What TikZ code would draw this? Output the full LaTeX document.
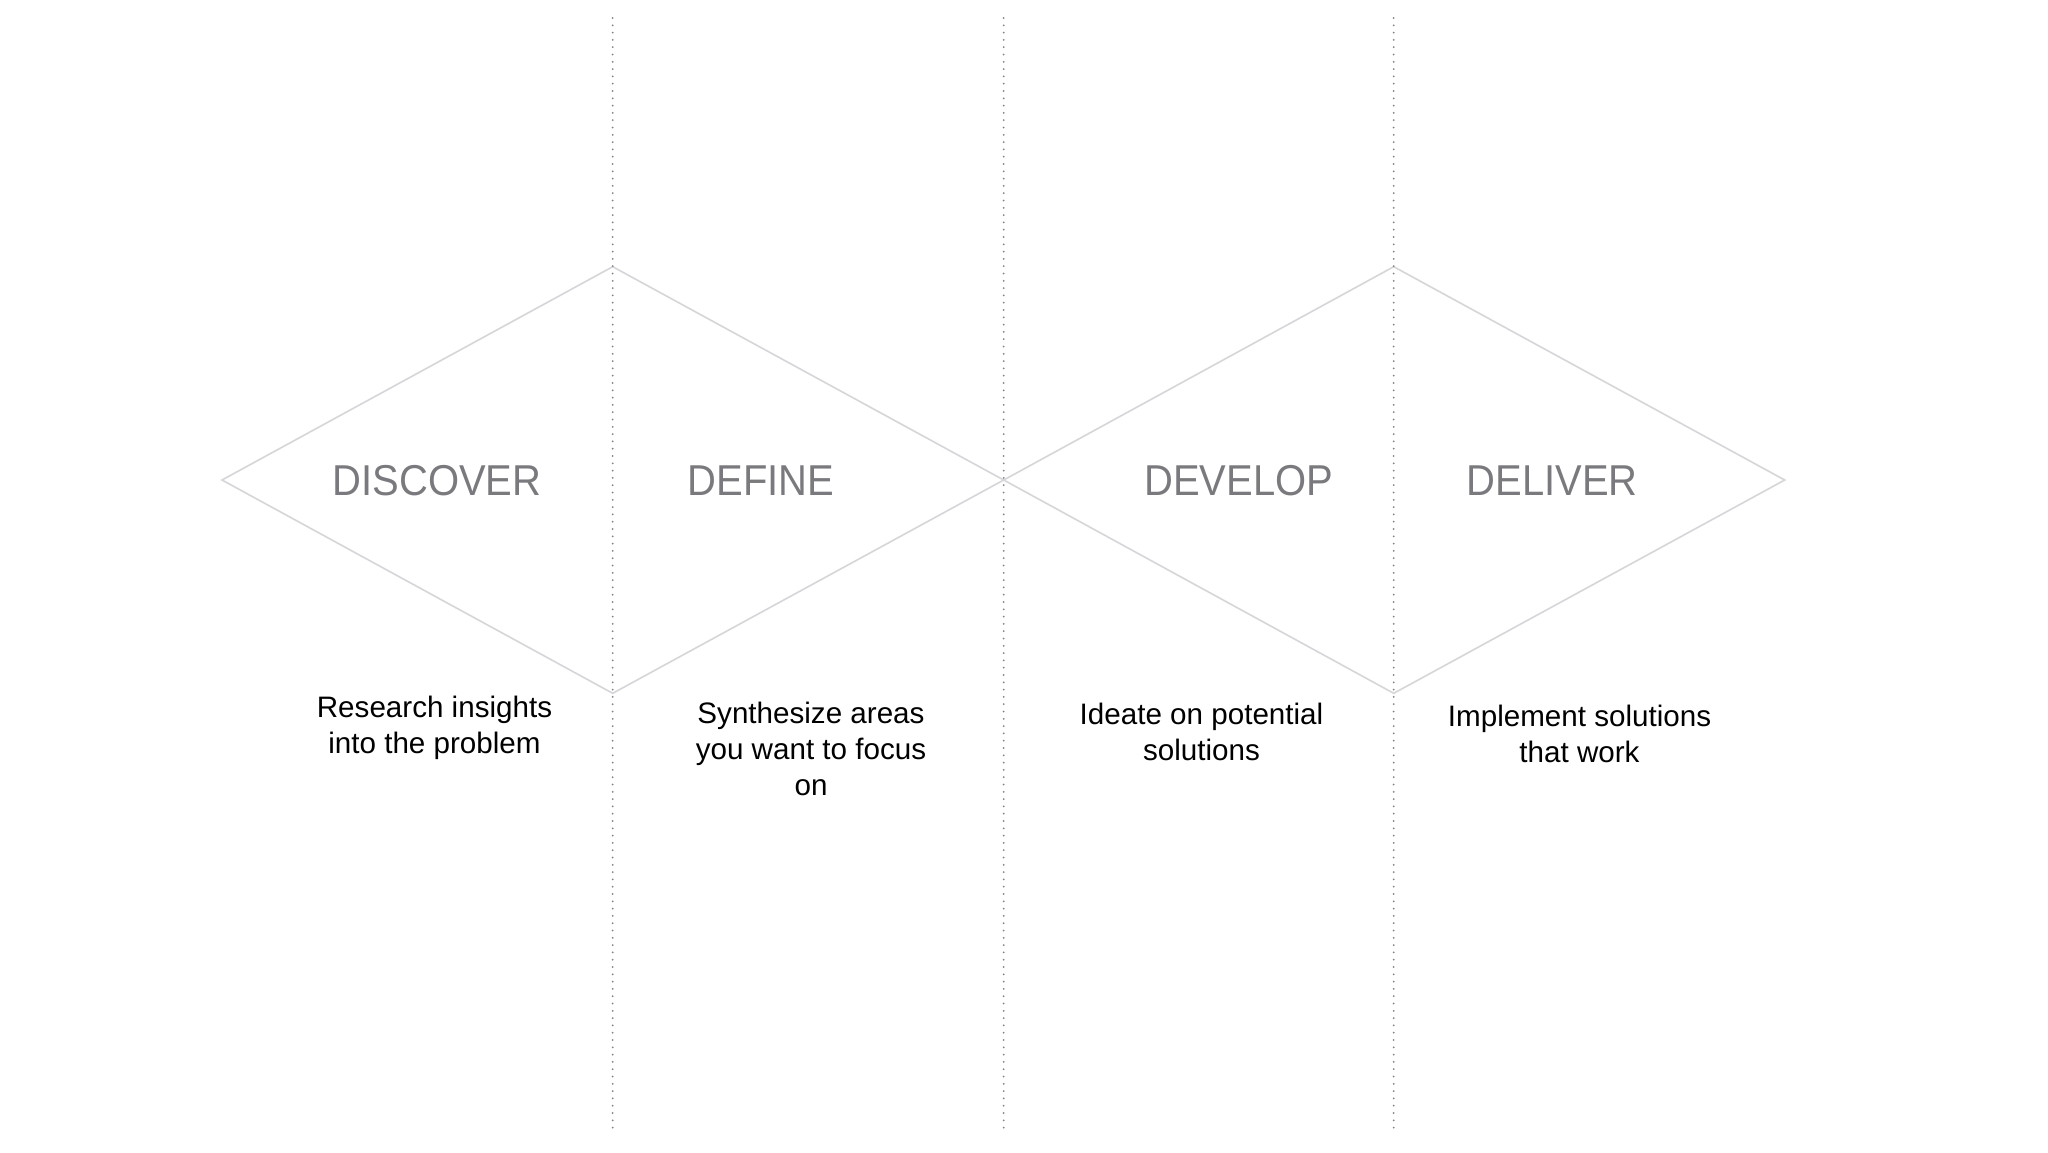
\documentclass[tikz,border=0pt]{standalone}
\usepackage{fontspec}
\setmainfont{Liberation Sans}
\newfontfamily\titlefont[FakeStretch=0.925]{Liberation Sans}
\definecolor{diamondgray}{RGB}{214,214,218}
\definecolor{dotgray}{RGB}{130,130,130}
\definecolor{titlegray}{RGB}{122,122,126}
\begin{document}
\begin{tikzpicture}[x=0.5pt,y=-0.5pt,
  phase/.style={font=\titlefont\fontsize{21.6}{26}\selectfont, text=titlegray, anchor=base, inner sep=0pt},
  desc/.style={font=\fontsize{14.8}{18}\selectfont, align=center, anchor=base, inner sep=0pt},
  divider/.style={dotgray, line width=1pt, line cap=round, dash pattern=on 0pt off 3.65pt},
  outline/.style={diamondgray, line width=0.8pt, line join=miter}]
\useasboundingbox (0,0) rectangle (2048,1152);
\fill[white] (0,0) rectangle (2048,1152);

% diamond vertices
\coordinate (d1l) at (222,480);
\coordinate (d1t) at (612.7,266.7);
\coordinate (d1r) at (1003.7,480);
\coordinate (d1b) at (612.7,693.3);
\coordinate (d2t) at (1393.7,266.7);
\coordinate (d2r) at (1784.7,480);
\coordinate (d2b) at (1393.7,693.3);

% divider end points
\coordinate (v1a) at (612.7,18);   \coordinate (v1b) at (612.7,1131);
\coordinate (v2a) at (1003.7,18);  \coordinate (v2b) at (1003.7,1131);
\coordinate (v3a) at (1393.7,18);  \coordinate (v3b) at (1393.7,1131);

\draw[outline] (d1l) -- (d1t) -- (d1r) -- (d1b) -- cycle;
\draw[outline] (d1r) -- (d2t) -- (d2r) -- (d2b) -- cycle;

\draw[divider] (v1a) -- (v1b);
\draw[divider] (v2a) -- (v2b);
\draw[divider] (v3a) -- (v3b);

\node[phase] (discover) at (437,495) {DISCOVER};
\node[phase] (define)   at (761,495) {DEFINE};
\node[phase] (develop)  at (1238.8,495) {DEVELOP};
\node[phase] (deliver)  at (1552,495) {DELIVER};

% anchor=base is the baseline of the last line
\node[desc] (research)   at (434.5,753) {Research insights\\into the problem};
\node[desc] (synthesize) at (811,795) {Synthesize areas\\you want to focus\\on};
\node[desc] (ideate)     at (1201.5,760) {Ideate on potential\\solutions};
\node[desc] (implement)  at (1579.5,762) {Implement solutions\\that work};
\end{tikzpicture}
\end{document}
